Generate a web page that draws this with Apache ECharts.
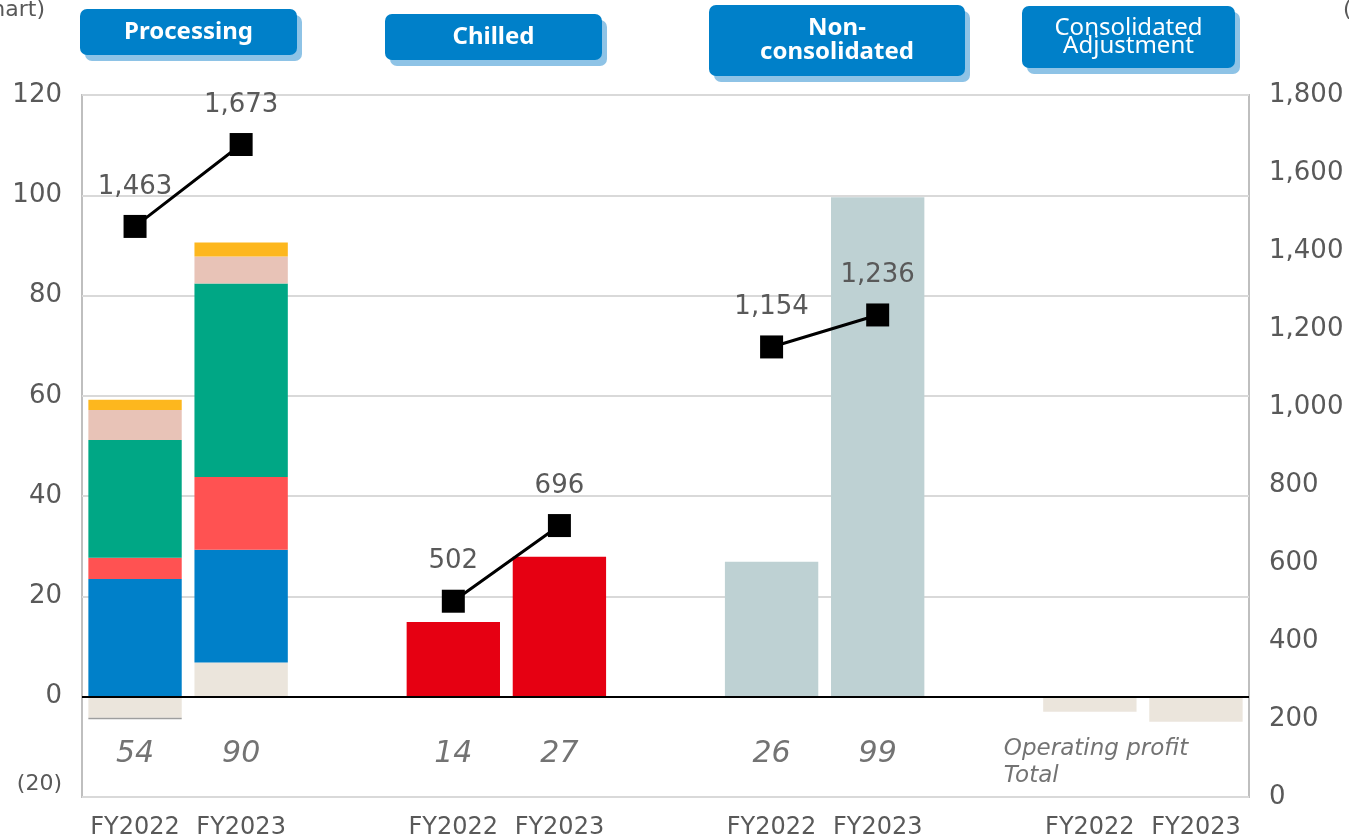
<!DOCTYPE html>
<html>
<head>
<meta charset="utf-8">
<script src="https://cdn.jsdelivr.net/npm/echarts@6/dist/echarts.min.js"></script>
<style>
html,body{margin:0;padding:0;background:#fff;}
#c{width:1349px;height:840px;}
</style>
</head>
<body>
<div id="c"></div>
<script>
// ---- data ----
const categories = ['FY2022','FY2023','','FY2022','FY2023','','FY2022','FY2023','','FY2022','FY2023'];
const leftTicks = [-20, 0, 20, 40, 60, 80, 100, 120];
const rightTicks = [0, 200, 400, 600, 800, 1000, 1200, 1400, 1600, 1800];
// Processing breakdown (left axis) + consolidated adjustment (beige)
const beige   = [-4.2, 6.8, '-', '-', '-', '-', '-', '-', '-', -3.0, -5.0];
const other   = [-0.3, '-', '-', '-', '-', '-', '-', '-', '-', '-', '-'];
const blue    = [23.5, 22.5, '-', '-', '-', '-', '-', '-', '-', '-', '-'];
const red     = [4.2, 14.5, '-', '-', '-', '-', '-', '-', '-', '-', '-'];
const green   = [23.5, 38.6, '-', '-', '-', '-', '-', '-', '-', '-', '-'];
const pink    = [6.0, 5.4, '-', '-', '-', '-', '-', '-', '-', '-', '-'];
const yellow  = [2.0, 2.8, '-', '-', '-', '-', '-', '-', '-', '-', '-'];
const chilled = ['-', '-', '-', 14.9, 27.9, '-', '-', '-', '-', '-', '-'];
const nonCons = ['-', '-', '-', '-', '-', '-', 26.9, 99.6, '-', '-', '-'];
// Net sales (right axis)
const sales   = [1463, 1673, '-', 502, 696, '-', 1154, 1236, '-', '-', '-'];
// Operating profit totals shown under bars
const totals  = ['54', '90', '', '14', '27', '', '26', '99', '', '', ''];
const totalsNote = 'Operating profit\nTotal';
const groups = [
  {name: 'Processing'},
  {name: 'Chilled'},
  {name: 'Non-\nconsolidated'},
  {name: 'Consolidated\nAdjustment'}
];

const TXT = '#595959';
const FONT = 'DejaVu Sans';
const fmt = v => String(v).replace(/\B(?=(\d{3})+(?!\d))/g, ',');

function barSeries(name, data, color) {
  return {name, type: 'bar', stack: 'a', data, barCategoryGap: '12%',
    itemStyle: {color}, yAxisIndex: 0, silent: true};
}

const totalsData = totals.map((t, i) => [i, -11.55, t]);
totalsData[9] = {value: [9, -13.2, totalsNote],
  label: {formatter: totalsNote, align: 'left', offset: [-86, 0], fontSize: 23, lineHeight: 27}};

const chart = echarts.init(document.getElementById('c'));
function box(x, y, w, h, text, bold, lh, fs) {
  return [
    {type: 'rect', shape: {x: x + 5, y: y + 6, width: w, height: h, r: 7}, style: {fill: '#8EC3E6'}},
    {type: 'rect', shape: {x, y, width: w, height: h, r: 7}, style: {fill: '#0080C9'}},
    {type: 'text', x: x + w / 2, y: y + h / 2, style: {text, fill: '#fff', font: (bold ? 'bold ' : '') + fs + 'px "Noto Sans"',
      align: 'center', verticalAlign: 'middle', lineHeight: lh}}
  ];
}

chart.setOption({
  animation: false,
  grid: {left: 82, right: 100, top: 95, bottom: 42, show: true, borderColor: '#BFBFBF', borderWidth: 2},
  xAxis: {type: 'category', data: categories,
    axisLine: {show: false, onZero: false}, axisTick: {show: false},
    axisLabel: {interval: 0, color: TXT, fontSize: 24, fontFamily: FONT, margin: 19}},
  yAxis: [
    {type: 'value', min: -20, max: 120, interval: 20,
      axisLine: {show: false}, axisTick: {show: false},
      splitLine: {lineStyle: {color: '#D9D9D9', width: 2}},
      axisLabel: {color: TXT, fontSize: 26, fontFamily: FONT, margin: 20,
        formatter: v => leftTicks.includes(v) ? (v < 0 ? '{n|(' + (-v) + ')}' : String(v)) : '',
        rich: {n: {fontSize: 22, fontFamily: FONT, color: TXT, padding: [0, 0, 26, 0]}}}},
    {type: 'value', min: 0, max: 1800, interval: 200,
      axisLine: {show: false}, axisTick: {show: false}, splitLine: {show: false},
      axisLabel: {color: TXT, fontSize: 26, fontFamily: FONT, margin: 20,
        formatter: v => rightTicks.includes(v) ? fmt(v) : ''}}
  ],
  series: [
    Object.assign(barSeries('beige', beige, '#EBE5DC'), {
      markLine: {silent: true, symbol: 'none', label: {show: false},
        lineStyle: {color: '#000', width: 2, type: 'solid'}, data: [{yAxis: 0}]}}),
    barSeries('other', other, '#9E9E9E'),
    barSeries('blue', blue, '#0080C9'),
    barSeries('red', red, '#FF5252'),
    barSeries('green', green, '#00A785'),
    barSeries('pink', pink, '#E8C3B7'),
    barSeries('yellow', yellow, '#FDB71E'),
    barSeries('chilled', chilled, '#E60012'),
    barSeries('nonCons', nonCons, '#BED1D3'),
    {name: 'sales', type: 'line', yAxisIndex: 1, data: sales, connectNulls: false,
      symbol: 'rect', symbolSize: 23, itemStyle: {color: '#000'},
      lineStyle: {color: '#000', width: 3}, z: 5,
      label: {show: true, position: 'top', distance: 15, color: TXT, fontSize: 26, fontFamily: FONT,
        formatter: p => fmt(p.value)}},
    {name: 'totals', type: 'scatter', yAxisIndex: 0, data: totalsData, symbolSize: 0,
      label: {show: true, position: 'inside', color: '#505050', fontSize: 30, fontFamily: FONT, fontStyle: 'italic',
        formatter: p => p.value[2]}}
  ],
  graphic: [].concat(
    box(80, 9, 217, 46, groups[0].name, true, 24, 24),
    box(385, 14, 217, 46, groups[1].name, true, 24, 24),
    box(709, 5, 256, 71, groups[2].name, true, 24, 24),
    box(1022, 6, 213, 62, groups[3].name, false, 18, 24),
    [
      {type: 'text', x: 45, y: 10, style: {text: '(100 million yen, left chart)', fill: TXT, font: '22px "DejaVu Sans"', align: 'right', verticalAlign: 'middle'}},
      {type: 'text', x: 1343, y: 10, style: {text: '(100 million yen, right chart)', fill: TXT, font: '22px "DejaVu Sans"', align: 'left', verticalAlign: 'middle'}}
    ]
  )
});
</script>
</body>
</html>
